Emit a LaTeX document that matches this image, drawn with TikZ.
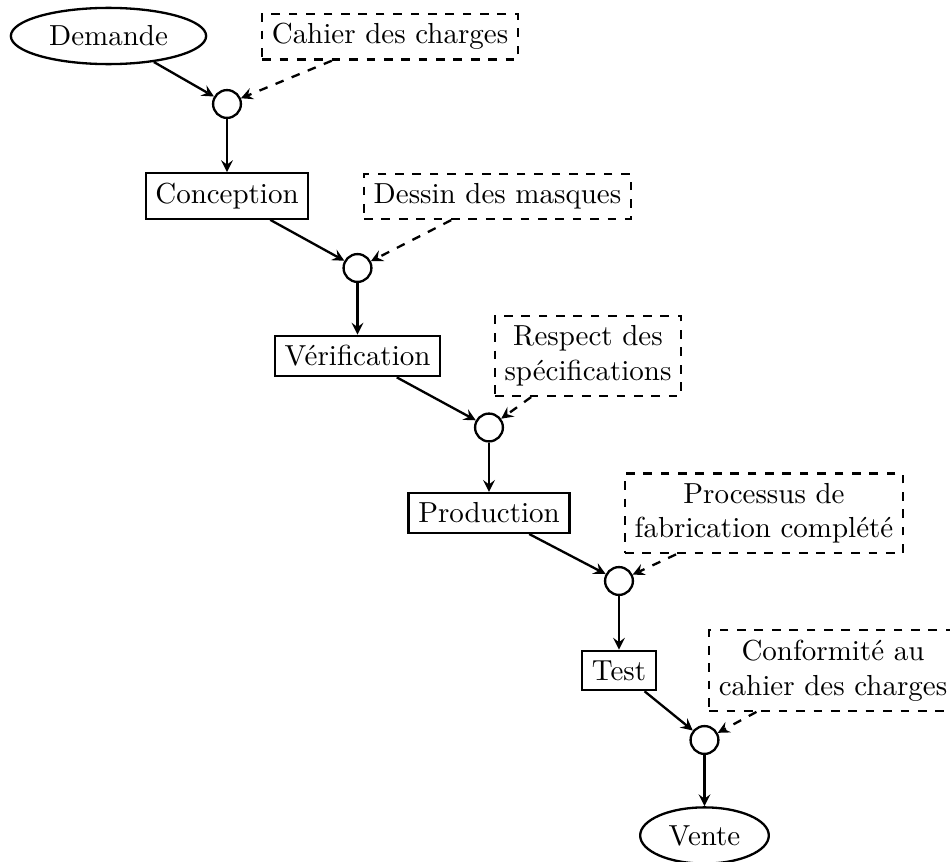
\documentclass[tikz,border=0pt]{standalone}
\usetikzlibrary{shapes.geometric,arrows}
\begin{document}
\begin{tikzpicture}[x=0.345pt,y=-0.345pt,
  every node/.style={thick},
  endpoint/.style={draw,ellipse},
  stage/.style={draw,rectangle},
  spec/.style={draw,dashed,rectangle,align=center},
  junction/.style={draw,circle,minimum size=9.6pt,inner sep=0pt},
  flow/.style={thick,-stealth},
  input/.style={thick,dashed,-stealth}]
\useasboundingbox (0,0) rectangle (950,862);

% main chain of stages
\node[endpoint] (dem)   at (108.5,36)  {Demande};
\node[junction] (c1)    at (227,104)   {};
\node[stage]    (conc)  at (227,196)   {Conception};
\node[junction] (c2)    at (357.5,268) {};
\node[stage]    (verif) at (357.5,356) {Vérification};
\node[junction] (c3)    at (489,427.5) {};
\node[stage]    (prod)  at (489,513)   {Production};
\node[junction] (c4)    at (619,581)   {};
\node[stage]    (test)  at (619,670.5) {Test};
\node[junction] (c5)    at (704.5,740) {};
\node[endpoint] (vente) at (704.5,835.5) {Vente};

% documents feeding each junction
\node[spec] (cdc)  at (390,36.7)  {Cahier des charges};
\node[spec] (dess) at (497.5,196.5) {Dessin des masques};
\node[spec] (resp) at (588,356)   {Respect des\\spécifications};
\node[spec] (proc) at (764,513.3) {Processus de\\fabrication complété};
\node[spec] (conf) at (833,670.5) {Conformité au\\cahier des charges};

% solid flow
\draw[flow] (dem)   -- (c1);
\draw[flow] (c1)    -- (conc);
\draw[flow] (conc)  -- (c2);
\draw[flow] (c2)    -- (verif);
\draw[flow] (verif) -- (c3);
\draw[flow] (c3)    -- (prod);
\draw[flow] (prod)  -- (c4);
\draw[flow] (c4)    -- (test);
\draw[flow] (test)  -- (c5);
\draw[flow] (c5)    -- (vente);

% dashed inputs
\draw[input] (cdc)  -- (c1);
\draw[input] (dess) -- (c2);
\draw[input] (resp) -- (c3);
\draw[input] (proc) -- (c4);
\draw[input] (conf) -- (c5);
\end{tikzpicture}
\end{document}
